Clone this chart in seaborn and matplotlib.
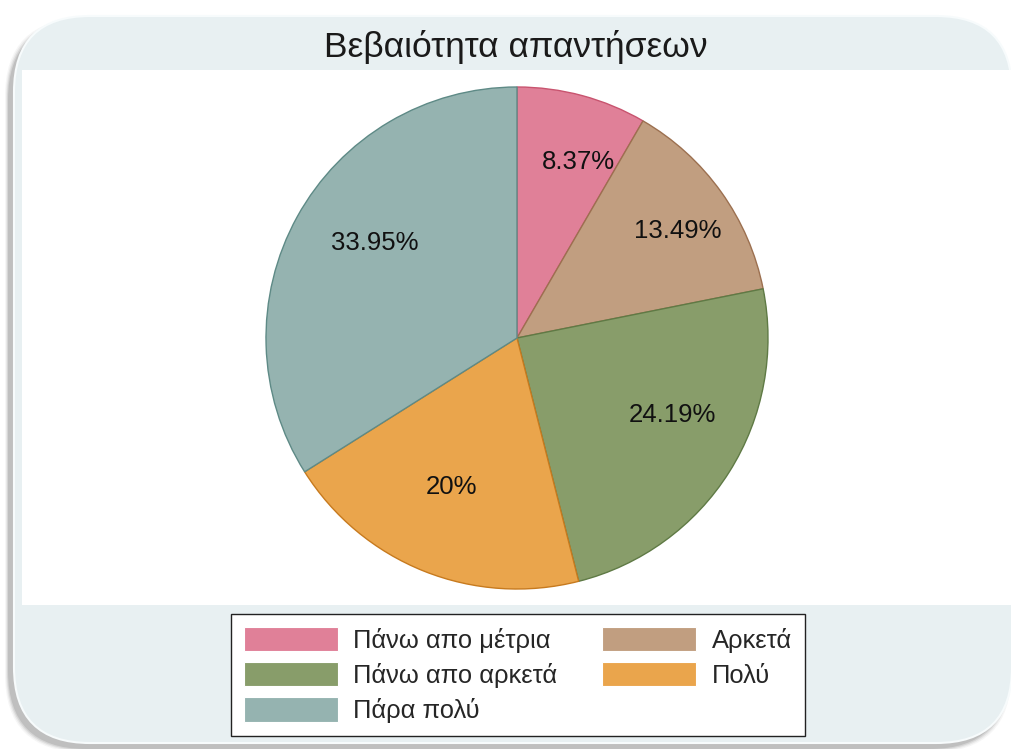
import matplotlib
matplotlib.use("Agg")
import numpy as np
import matplotlib.pyplot as plt
import seaborn as sns
from matplotlib.patches import FancyBboxPatch, Rectangle, Patch
from matplotlib.transforms import IdentityTransform

# Response certainty shares (%)
categories = ["Πάνω απο μέτρια", "Αρκετά", "Πάνω απο αρκετά", "Πολύ", "Πάρα πολύ"]
shares = [8.37, 13.49, 24.19, 20, 33.95]
pct_labels = ["8.37%", "13.49%", "24.19%", "20%", "33.95%"]
title = "Βεβαιότητα απαντήσεων"

fills = sns.color_palette(["#E08098", "#C19E80", "#889D6A", "#EAA54C", "#95B3B0"])
edges = ["#C8546F", "#9C7050", "#5F7A45", "#C77A1E", "#5E8A86"]

sns.set_theme(style="white")
plt.rcParams["font.family"] = ["Liberation Sans", "DejaVu Sans"]

W, H = 1012, 749
fig = plt.figure(figsize=(W / 100, H / 100), dpi=100)
fig.patch.set_facecolor("white")

ident = IdentityTransform()


def rounded(x0, y0, x1, y1, r, **kw):
    # rounded box given by its outer edges in pixel coordinates
    return FancyBboxPatch((x0 + r, y0 + r), (x1 - x0) - 2 * r, (y1 - y0) - 2 * r,
                          boxstyle=f"round,pad={r},rounding_size={r}",
                          transform=ident, **kw)


# soft drop shadow towards the lower left
for k, a in enumerate([0.05, 0.08, 0.12, 0.16]):
    g = 3 - k
    fig.patches.append(rounded(8 - g, 0 - g, 1008 + g, 727 + g, 78,
                               facecolor="#505050", edgecolor="none",
                               alpha=a, zorder=0))

# light rounded frame
fig.patches.append(rounded(14, 6, 1012, 733, 76, facecolor="#E8F0F2",
                           edgecolor="#F7FBFC", linewidth=1.5, zorder=1))

# white plot region
fig.patches.append(Rectangle((22, H - 605), W - 22, 535, transform=ident,
                             facecolor="white", edgecolor="none", zorder=2))

fig.text(516 / W, 1 - 47 / H, title, ha="center", va="center",
         fontsize=25.5, color="#1a1a1a", zorder=5)

cx, cy, R = 517, H - 338, 251
ax = fig.add_axes([(cx - R) / W, (cy - R) / H, 2 * R / W, 2 * R / H])
ax.set_zorder(3)
ax.patch.set_alpha(0)
wedges, _ = ax.pie(shares, colors=fills, startangle=90, counterclock=False,
                   radius=1, wedgeprops=dict(linewidth=1.0), frame=False)
for w, e in zip(wedges, edges):
    w.set_edgecolor(e)

# label placement: radius (fraction of pie radius) and angular nudge in degrees
label_r = [0.743, 0.77, 0.693, 0.648, 0.68]
label_nudge = [-4.3, -2.0, 5.9, -1.8, -4.9]
start = 90.0
for v, lab, r, d in zip(shares, pct_labels, label_r, label_nudge):
    mid = np.deg2rad(start - v * 3.6 / 2 + d)
    ax.text(r * np.cos(mid), r * np.sin(mid), lab, ha="center", va="center",
            fontsize=18.5, color="#111111")
    start -= v * 3.6
ax.set_xlim(-1, 1)
ax.set_ylim(-1, 1)
ax.set_aspect("equal")
ax.axis("off")

handles = [Patch(facecolor=f, edgecolor="white", linewidth=0.8) for f in fills]
order = [0, 2, 4, 1, 3]
leg = fig.legend([handles[i] for i in order], [categories[i] for i in order],
                 ncol=2, loc="upper left",
                 bbox_to_anchor=(231 / W, 1 - 614 / H), borderaxespad=0,
                 fontsize=18.4, handlelength=3.67, handleheight=1.1,
                 handletextpad=0.62, labelspacing=0.36, columnspacing=1.75,
                 borderpad=0.5, fancybox=False, frameon=True, framealpha=1)
leg.get_frame().set_edgecolor("#222222")
leg.get_frame().set_linewidth(1.0)
leg.get_frame().set_facecolor("white")
leg.set_zorder(6)

fig.savefig("out.png", dpi=100)
